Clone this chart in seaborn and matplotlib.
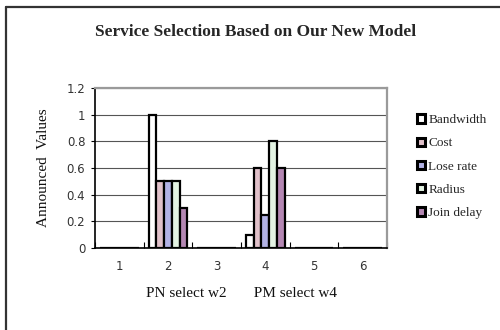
import matplotlib
matplotlib.use("Agg")
import matplotlib.pyplot as plt
from matplotlib.lines import Line2D
import seaborn as sns
import pandas as pd

# Data
categories = ["1", "2", "3", "4", "5", "6"]
bandwidth = [0, 1.0, 0, 0.1, 0, 0]
cost = [0, 0.5, 0, 0.6, 0, 0]
lose_rate = [0, 0.5, 0, 0.25, 0, 0]
radius = [0, 0.5, 0, 0.8, 0, 0]
join_delay = [0, 0.3, 0, 0.6, 0, 0]
series_names = ["Bandwidth", "Cost", "Lose rate", "Radius", "Join delay"]
series_colors = ["#ffffff", "#e6bcc8", "#a9a9ee", "#e0f6e0", "#bb7fbb"]
y_ticks = [0, 0.2, 0.4, 0.6, 0.8, 1.0, 1.2]
y_tick_labels = ["0", "0.2", "0.4", "0.6", "0.8", "1", "1.2"]

rows = []
for name, vals in zip(series_names, [bandwidth, cost, lose_rate, radius, join_delay]):
    for c, v in zip(categories, vals):
        rows.append({"cat": c, "series": name, "value": v})
df = pd.DataFrame(rows)

sns.set_theme(style="white")
serif = ["Liberation Serif", "DejaVu Serif"]

fig = plt.figure(figsize=(5, 3.3), dpi=100)
ax = fig.add_axes([0.19, 0.2485, 0.584, 0.4848])

sns.barplot(data=df, x="cat", y="value", hue="series", order=categories,
            hue_order=series_names, palette=series_colors, width=0.8,
            edgecolor="black", linewidth=1.6, ax=ax, zorder=3)

ax.set_ylim(0, 1.2)
ax.set_xlim(-0.5, 5.5)
ax.set_yticks(y_ticks)
ax.set_yticklabels(y_tick_labels, fontsize=8.5, color="#333333")
ax.tick_params(axis="y", length=3, width=0.8, color="black", left=True, pad=4)
ax.tick_params(axis="x", which="major", length=0, pad=9, labelsize=8.5, labelcolor="#333333")
ax.set_xticks([i - 0.5 for i in range(7)], minor=True)
ax.tick_params(axis="x", which="minor", direction="in", length=4, width=0.8,
               color="black", bottom=True)

ax.yaxis.grid(True, color="#555555", linewidth=0.8, zorder=0)
ax.set_axisbelow(True)
for side in ("left", "bottom"):
    ax.spines[side].set_color("black")
    ax.spines[side].set_linewidth(1.2)
for side in ("top", "right"):
    ax.spines[side].set_color("#9a9a9a")
    ax.spines[side].set_linewidth(1.6)

ax.set_xlabel("PN select w2       PM select w4", fontsize=11, family=serif,
              color="#111111", labelpad=10)
ax.set_ylabel("Announced  Values", fontsize=11, family=serif, color="#111111",
              labelpad=12)

handles, labels = ax.get_legend_handles_labels()
leg = ax.legend(handles, labels, loc="upper left", bbox_to_anchor=(0.824, 0.67),
                bbox_transform=fig.transFigure, frameon=False,
                prop={"family": serif, "size": 9.5}, handlelength=0.6, handleheight=0.6,
                handletextpad=0.25, labelspacing=0.85, borderaxespad=0)
for h in leg.legend_handles:
    h.set_linewidth(2.2)

fig.text(0.512, 0.903, "Service Selection Based on Our New Model", ha="center",
         va="center", fontsize=12.5, fontweight="bold", family=serif)

# Outer frame (top and left edges)
fig.add_artist(Line2D([0.012, 1.0], [0.979, 0.979], transform=fig.transFigure,
                      color="#333333", linewidth=1.6))
fig.add_artist(Line2D([0.012, 0.012], [0.0, 0.979], transform=fig.transFigure,
                      color="#333333", linewidth=1.6))

fig.savefig("out.png", dpi=100)
